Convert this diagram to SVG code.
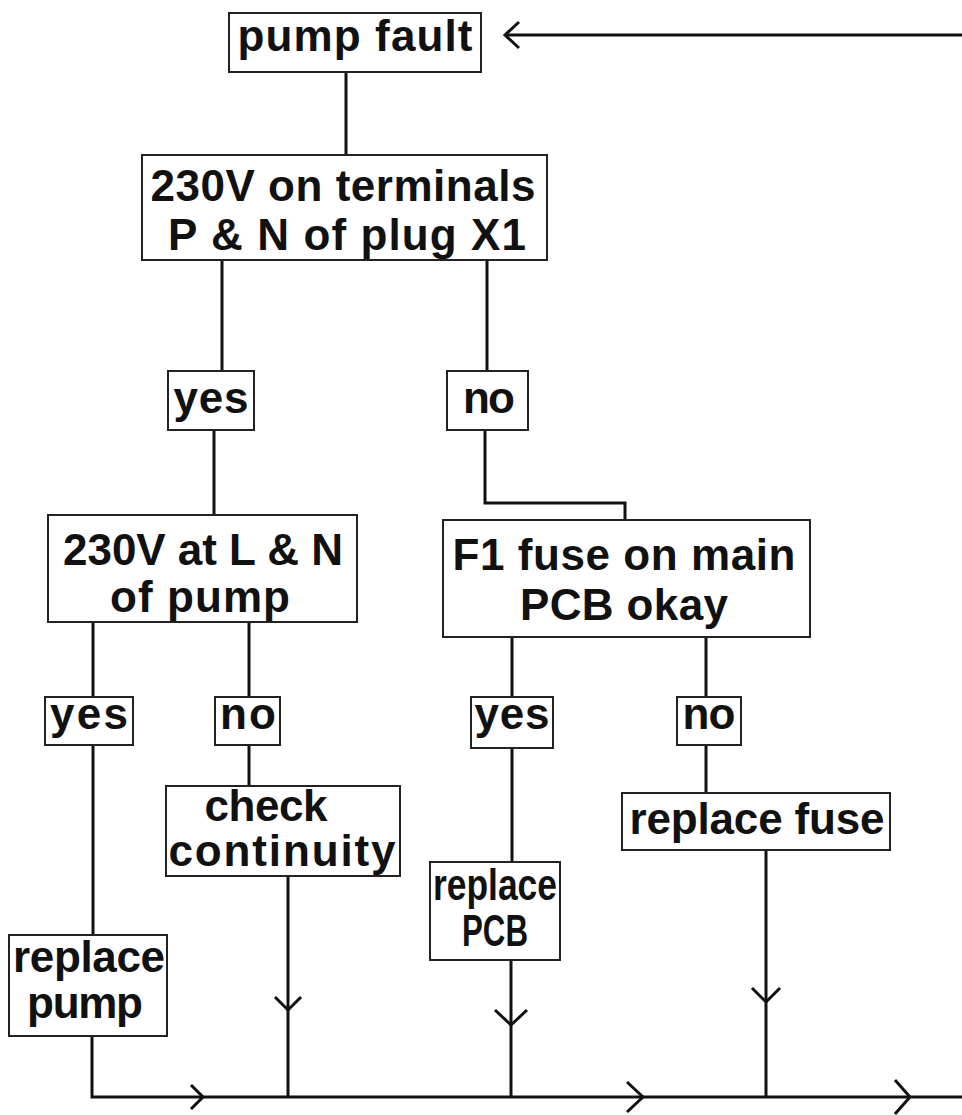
<svg xmlns="http://www.w3.org/2000/svg" width="962" height="1115" viewBox="0 0 962 1115">
<style>
.box{fill:#fff;stroke:#222;stroke-width:2}
.t{font-family:"Liberation Sans",Arial,sans-serif;font-weight:bold;font-size:44px;fill:#111;text-anchor:middle}
.c{fill:none;stroke:#111;stroke-width:3;stroke-linejoin:miter}
</style>
<rect width="962" height="1115" fill="#fff"/>
<g id="connectors">
<path class="c" d="M962,35 H505"/>
<path class="c" d="M519,22 L505,35 L519,48"/>
<path class="c" d="M346,72 V155"/>
<path class="c" d="M222,260 V371"/>
<path class="c" d="M214,430 V515"/>
<path class="c" d="M487,260 V371"/>
<path class="c" d="M485,430 V503 H625 V520"/>
<path class="c" d="M93,622 V697"/>
<path class="c" d="M93,745 V935"/>
<path class="c" d="M249,622 V697"/>
<path class="c" d="M249,745 V786"/>
<path class="c" d="M512,637 V697"/>
<path class="c" d="M512,748 V862"/>
<path class="c" d="M706,637 V697"/>
<path class="c" d="M706,745 V793"/>
<path class="c" d="M288,876 V1097"/>
<path class="c" d="M511,960 V1097"/>
<path class="c" d="M766,850 V1097"/>
<path class="c" d="M92,1036 V1097 H962"/>
<path class="c" d="M275,997 L288,1010 L301,997"/>
<path class="c" d="M495,1010 L511,1025 L527,1010"/>
<path class="c" d="M752,988 L766,1002 L780,988"/>
<path class="c" d="M191,1085 L203,1097 L191,1109"/>
<path class="c" d="M627,1082 L643,1097 L627,1112"/>
<path class="c" d="M895,1080 L910,1097 L895,1114"/>
</g>
<g id="pump-fault"><rect class="box" x="229" y="13" width="252" height="59"/><text class="t" x="355" y="51" textLength="235" lengthAdjust="spacing">pump fault</text></g>
<g id="check-230v-x1"><rect class="box" x="142" y="155" width="405" height="105"/><text class="t" x="343" y="201" textLength="385" lengthAdjust="spacing">230V on terminals</text><text class="t" x="347" y="250" textLength="358" lengthAdjust="spacing">P &amp; N of plug X1</text></g>
<g id="yes1"><rect class="box" x="168" y="371" width="86" height="59"/><text class="t" x="211" y="413" textLength="75" lengthAdjust="spacing">yes</text></g>
<g id="no1"><rect class="box" x="447" y="371" width="81" height="59"/><text class="t" x="489" y="413" textLength="52" lengthAdjust="spacing">no</text></g>
<g id="check-230v-pump"><rect class="box" x="48" y="515" width="309" height="107"/><text class="t" x="203" y="565" textLength="280" lengthAdjust="spacing">230V at L &amp; N</text><text class="t" x="200" y="612" textLength="180" lengthAdjust="spacing">of pump</text></g>
<g id="check-fuse"><rect class="box" x="443" y="520" width="367" height="117"/><text class="t" x="624" y="570" textLength="343" lengthAdjust="spacing">F1 fuse on main</text><text class="t" x="624" y="620" textLength="208" lengthAdjust="spacing">PCB okay</text></g>
<g id="yes2"><rect class="box" x="45" y="697" width="88" height="48"/><text class="t" x="89" y="729" textLength="78" lengthAdjust="spacing">yes</text></g>
<g id="no2"><rect class="box" x="215" y="697" width="65" height="48"/><text class="t" x="248" y="729" textLength="56" lengthAdjust="spacing">no</text></g>
<g id="check-continuity"><rect class="box" x="166" y="786" width="234" height="90"/><text class="t" x="266" y="821" font-size="36" textLength="123" lengthAdjust="spacing">check</text><text class="t" x="282" y="866" font-size="36" textLength="227" lengthAdjust="spacing">continuity</text></g>
<g id="yes3"><rect class="box" x="471" y="697" width="82" height="51"/><text class="t" x="512" y="729" textLength="75" lengthAdjust="spacing">yes</text></g>
<g id="no3"><rect class="box" x="677" y="697" width="64" height="48"/><text class="t" x="709" y="729" textLength="53" lengthAdjust="spacing">no</text></g>
<g id="replace-fuse"><rect class="box" x="622" y="793" width="268" height="57"/><text class="t" x="757" y="834" textLength="255" lengthAdjust="spacing">replace fuse</text></g>
<g id="replace-pcb"><rect class="box" x="430" y="862" width="130" height="98"/><text class="t" x="495" y="900" font-size="38" textLength="124" lengthAdjust="spacingAndGlyphs">replace</text><text class="t" x="495" y="946" font-size="38" textLength="66" lengthAdjust="spacingAndGlyphs">PCB</text></g>
<g id="replace-pump"><rect class="box" x="9" y="935" width="158" height="101"/><text class="t" x="89" y="972" font-size="40" textLength="152" lengthAdjust="spacing">replace</text><text class="t" x="85" y="1018" font-size="40" textLength="116" lengthAdjust="spacing">pump</text></g>
</svg>
